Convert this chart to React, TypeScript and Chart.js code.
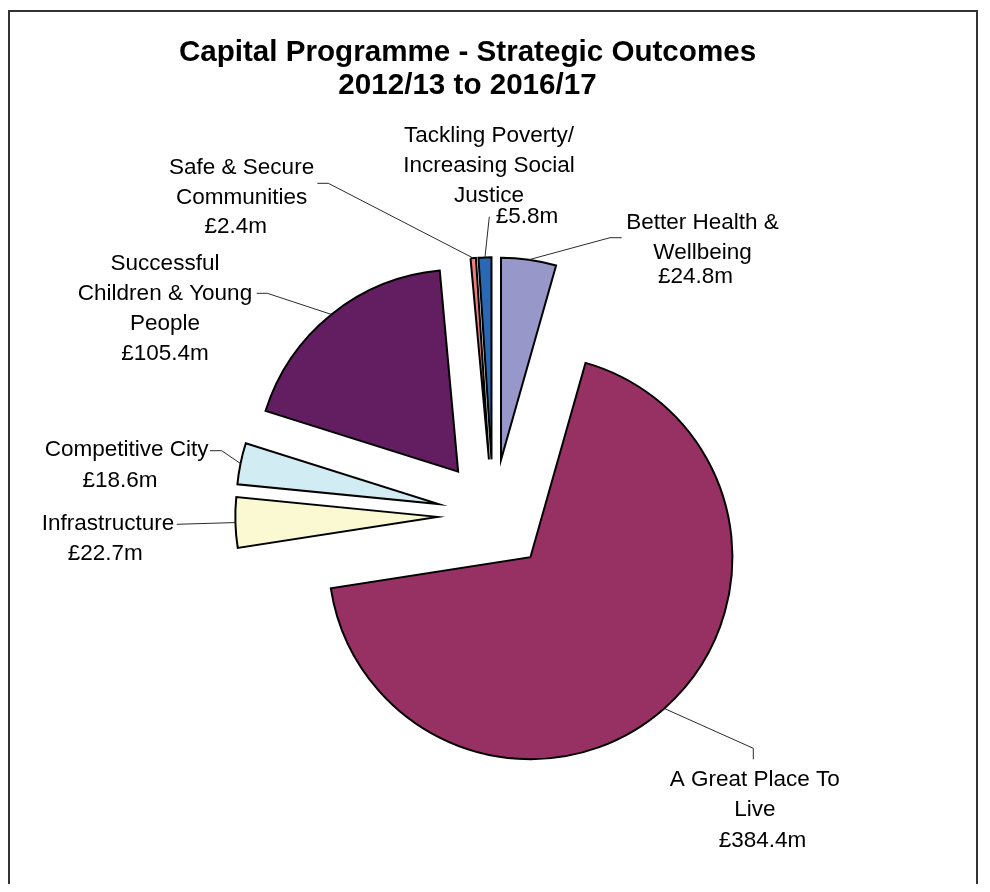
import React, { useEffect, useRef } from 'react';
import { Chart, PieController, ArcElement } from 'chart.js';

Chart.register(PieController, ArcElement);

// ---------- data ----------
const CATEGORIES: string[][] = [
  ['Better Health &', 'Wellbeing'],
  ['A Great Place To', 'Live'],
  ['Infrastructure'],
  ['Competitive City'],
  ['Successful', 'Children & Young', 'People'],
  ['Safe & Secure', 'Communities'],
  ['Tackling Poverty/', 'Increasing Social', 'Justice'],
];
const VALUES: number[] = [24.8, 384.4, 22.7, 18.6, 105.4, 2.4, 5.8];
const VALUE_LABELS: string[] = VALUES.map((v) => `£${v.toFixed(1)}m`);
const TITLE_LINES: string[] = ['Capital Programme - Strategic Outcomes', '2012/13 to 2016/17'];

// ---------- styles ----------
const COLORS = ['#9897C9', '#983163', '#FBF9D1', '#D1ECF2', '#621E60', '#F07C7C', '#2A68B3'];
const EXPLODE = 56;
const RADIUS = 202;
const CANVAS_W = 974;
const CANVAS_H = 876;
const OFFSET = 8; // page -> canvas
const CENTER = { x: 493.3 - OFFSET, y: 515.3 - OFFSET };
const LABEL_FONT = '22.5px "Liberation Sans", Arial, sans-serif';
const TITLE_FONT = 'bold 29.6px "Liberation Sans", Arial, sans-serif';
const LINE_H = 30.3;

// label layout (page coordinates): name centre/first baseline, value centre/baseline, leader points
type LabelLayout = { nx: number; ny: number; vx: number; vy: number; leader: [number, number][] };
const LABEL_LAYOUT: LabelLayout[] = [
  { nx: 702.5, ny: 228.5, vx: 695.5, vy: 283, leader: [[621.7, 237.7], [610, 237.7]] },
  { nx: 754.8, ny: 785.7, vx: 762.5, vy: 846.7, leader: [[753.3, 759.3], [753.3, 748.3]] },
  { nx: 108, ny: 530, vx: 105.3, vy: 559.5, leader: [[176.7, 524.3]] },
  { nx: 126.7, ny: 456, vx: 120, vy: 486.7, leader: [[210, 450.7], [221.7, 450.7]] },
  { nx: 165, ny: 269.5, vx: 165, vy: 360, leader: [[256.7, 293.3], [267.3, 293.3]] },
  { nx: 241.6, ny: 174, vx: 235.7, vy: 232.7, leader: [[317.3, 183.3], [328.3, 183.3]] },
  { nx: 489, ny: 141.7, vx: 527, vy: 222.7, leader: [[489.3, 216.7]] },
];
const TITLE_POS = { x: 467.5, y1: 61, y2: 94 };

const explodedPiePlugin = {
  id: 'explodedPie',
  beforeDatasetDraw(chart: any, args: any) {
    const ctx: CanvasRenderingContext2D = chart.ctx;
    args.meta.data.forEach((arc: any) => {
      const mid = (arc.startAngle + arc.endAngle) / 2;
      ctx.save();
      ctx.translate(Math.cos(mid) * EXPLODE, Math.sin(mid) * EXPLODE);
      arc.draw(ctx);
      ctx.restore();
    });
    return false;
  },
  afterDraw(chart: any) {
    const ctx: CanvasRenderingContext2D = chart.ctx;
    const meta = chart.getDatasetMeta(0);
    ctx.save();
    // title
    ctx.fillStyle = '#000';
    ctx.textAlign = 'center';
    ctx.textBaseline = 'alphabetic';
    ctx.font = TITLE_FONT;
    ctx.fillText(TITLE_LINES[0], TITLE_POS.x - OFFSET, TITLE_POS.y1 - OFFSET);
    ctx.fillText(TITLE_LINES[1], TITLE_POS.x - OFFSET, TITLE_POS.y2 - OFFSET);

    meta.data.forEach((arc: any, i: number) => {
      const lay = LABEL_LAYOUT[i];
      const mid = (arc.startAngle + arc.endAngle) / 2;
      const r = EXPLODE + arc.outerRadius;
      const ax = arc.x + Math.cos(mid) * r;
      const ay = arc.y + Math.sin(mid) * r;
      // leader line
      ctx.strokeStyle = '#2a2a2a';
      ctx.lineWidth = 1;
      ctx.beginPath();
      lay.leader.forEach(([px, py], k) => {
        if (k === 0) ctx.moveTo(px - OFFSET, py - OFFSET);
        else ctx.lineTo(px - OFFSET, py - OFFSET);
      });
      ctx.lineTo(ax, ay);
      ctx.stroke();
      // text
      ctx.font = LABEL_FONT;
      ctx.fillStyle = '#000';
      const lines = chart.data.labels[i] as string[];
      lines.forEach((t, k) => {
        ctx.fillText(t, lay.nx - OFFSET, lay.ny - OFFSET + k * LINE_H);
      });
      ctx.fillText(VALUE_LABELS[i], lay.vx - OFFSET, lay.vy - OFFSET);
    });
    ctx.restore();
  },
};

export default function App() {
  const ref = useRef<HTMLCanvasElement | null>(null);
  useEffect(() => {
    if (!ref.current) return;
    const chart = new Chart(ref.current, {
      type: 'pie',
      data: {
        labels: CATEGORIES,
        datasets: [
          {
            data: VALUES,
            backgroundColor: COLORS,
            borderColor: '#000',
            borderWidth: 2,
            borderJoinStyle: 'miter',
            offset: 0,
            hoverOffset: 0,
            radius: RADIUS,
          } as any,
        ],
      },
      options: {
        animation: false,
        responsive: true,
        maintainAspectRatio: false,
        events: [],
        layout: {
          padding: {
            left: CENTER.x - 250,
            right: CANVAS_W - (CENTER.x + 250),
            top: CENTER.y - 250,
            bottom: CANVAS_H - (CENTER.y + 250),
          },
        },
        plugins: {
          legend: { display: false },
          tooltip: { enabled: false },
          title: { display: false },
        },
      } as any,
      plugins: [explodedPiePlugin],
    });
    return () => chart.destroy();
  }, []);

  return (
    <div style={{ position: 'relative', width: CANVAS_W, height: CANVAS_H }}>
      <div
        style={{
          position: 'absolute',
          left: 0,
          top: 2,
          width: 966,
          height: 879,
          borderTop: '2px solid #333',
          borderLeft: '2px solid #333',
          borderRight: '2px solid #333',
        }}
      />
      <div style={{ position: 'absolute', left: 0, top: 0, width: CANVAS_W, height: CANVAS_H }}>
        <canvas ref={ref} />
      </div>
    </div>
  );
}
